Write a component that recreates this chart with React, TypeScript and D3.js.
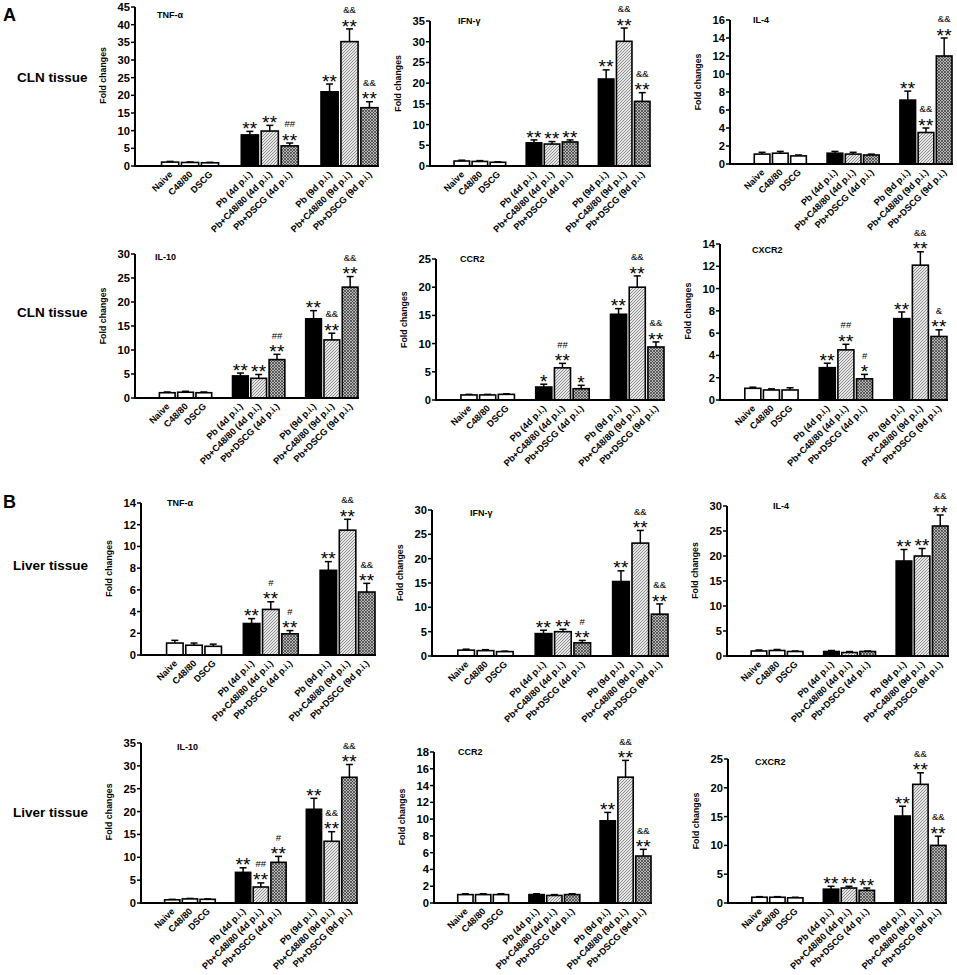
import React from 'react';
import * as d3 from 'd3';

const FONT = "'Liberation Sans', Arial, Helvetica, sans-serif";

const categories = [
  'Naive', 'C48/80', 'DSCG',
  'Pb (4d p.i.)', 'Pb+C48/80 (4d p.i.)', 'Pb+DSCG (4d p.i.)',
  'Pb (9d p.i.)', 'Pb+C48/80 (9d p.i.)', 'Pb+DSCG (9d p.i.)',
];

// ---------- A: CLN tissue ----------
const tnfCLNMean = [1.1, 1.0, 0.9, 8.8, 9.9, 5.7, 21.0, 35.2, 16.5];
const tnfCLNErr = [0.2, 0.15, 0.15, 1.0, 1.6, 0.8, 2.2, 3.6, 1.7];
const tnfCLNStar = ['', '', '', '**', '**', '**', '**', '**', '**'];
const tnfCLNMark = ['', '', '', '', '', '##', '', '&&', '&&'];

const ifnCLNMean = [1.2, 1.1, 0.9, 5.6, 5.3, 5.8, 21.0, 30.1, 15.6];
const ifnCLNErr = [0.2, 0.2, 0.1, 0.7, 0.6, 0.5, 2.2, 3.2, 2.1];
const ifnCLNStar = ['', '', '', '**', '**', '**', '**', '**', '**'];
const ifnCLNMark = ['', '', '', '', '', '', '', '&&', '&&'];

const il4CLNMean = [1.1, 1.2, 0.9, 1.2, 1.1, 1.0, 7.1, 3.5, 12.0];
const il4CLNErr = [0.2, 0.2, 0.1, 0.2, 0.2, 0.1, 1.0, 0.5, 2.0];
const il4CLNStar = ['', '', '', '', '', '', '**', '**', '**'];
const il4CLNMark = ['', '', '', '', '', '', '', '&&', '&&'];

const il10CLNMean = [1.1, 1.2, 1.1, 4.6, 4.1, 8.0, 16.5, 12.1, 23.1];
const il10CLNErr = [0.15, 0.2, 0.15, 0.6, 0.8, 1.1, 1.7, 1.4, 2.2];
const il10CLNStar = ['', '', '', '**', '**', '**', '**', '**', '**'];
const il10CLNMark = ['', '', '', '', '', '##', '', '&&', '&&'];

const ccr2CLNMean = [0.9, 0.9, 1.0, 2.3, 5.7, 2.0, 15.2, 20.0, 9.4];
const ccr2CLNErr = [0.1, 0.1, 0.1, 0.5, 0.8, 0.6, 1.0, 2.0, 0.9];
const ccr2CLNStar = ['', '', '', '*', '**', '*', '**', '**', '**'];
const ccr2CLNMark = ['', '', '', '', '##', '', '', '&&', '&&'];

const cxcr2CLNMean = [1.05, 0.9, 0.9, 2.9, 4.5, 1.9, 7.3, 12.1, 5.7];
const cxcr2CLNErr = [0.1, 0.1, 0.2, 0.4, 0.5, 0.4, 0.6, 1.2, 0.6];
const cxcr2CLNStar = ['', '', '', '**', '**', '*', '**', '**', '**'];
const cxcr2CLNMark = ['', '', '', '', '##', '#', '', '&&', '&'];

// ---------- B: Liver tissue ----------
const tnfLivMean = [1.1, 0.9, 0.8, 2.9, 4.2, 1.95, 7.8, 11.5, 5.8];
const tnfLivErr = [0.25, 0.2, 0.2, 0.45, 0.7, 0.3, 0.8, 1.0, 0.8];
const tnfLivStar = ['', '', '', '**', '**', '**', '**', '**', '**'];
const tnfLivMark = ['', '', '', '', '#', '#', '', '&&', '&&'];

const ifnLivMean = [1.2, 1.1, 0.9, 4.6, 5.0, 2.7, 15.3, 23.2, 8.6];
const ifnLivErr = [0.2, 0.2, 0.1, 0.7, 0.5, 0.5, 2.2, 2.6, 2.1];
const ifnLivStar = ['', '', '', '**', '**', '**', '**', '**', '**'];
const ifnLivMark = ['', '', '', '', '', '#', '', '&&', '&&'];

const il4LivMean = [1.0, 1.1, 0.9, 0.9, 0.7, 0.9, 19.0, 20.0, 26.0];
const il4LivErr = [0.2, 0.2, 0.1, 0.2, 0.2, 0.1, 2.3, 1.5, 2.2];
const il4LivStar = ['', '', '', '', '', '', '**', '**', '**'];
const il4LivMark = ['', '', '', '', '', '', '', '', '&&'];

const il10LivMean = [0.7, 0.9, 0.8, 6.7, 3.5, 8.9, 20.5, 13.5, 27.5];
const il10LivErr = [0.1, 0.1, 0.1, 1.0, 0.9, 1.3, 2.4, 2.1, 2.8];
const il10LivStar = ['', '', '', '**', '**', '**', '**', '**', '**'];
const il10LivMark = ['', '', '', '', '##', '#', '', '&&', '&&'];

const ccr2LivMean = [1.0, 1.0, 1.0, 1.0, 0.9, 1.0, 9.8, 15.0, 5.6];
const ccr2LivErr = [0.1, 0.1, 0.1, 0.1, 0.1, 0.1, 1.0, 2.0, 0.8];
const ccr2LivStar = ['', '', '', '', '', '', '**', '**', '**'];
const ccr2LivMark = ['', '', '', '', '', '', '', '&&', '&&'];

const cxcr2LivMean = [1.0, 1.0, 0.9, 2.4, 2.6, 2.2, 15.1, 20.6, 10.0];
const cxcr2LivErr = [0.1, 0.1, 0.1, 0.5, 0.3, 0.4, 1.7, 2.0, 1.6];
const cxcr2LivStar = ['', '', '', '**', '**', '**', '**', '**', '**'];
const cxcr2LivMark = ['', '', '', '', '', '', '', '&&', '&&'];

const panels = [
  { title: 'TNF-α', yMax: 45, yStep: 5, mean: tnfCLNMean, err: tnfCLNErr, star: tnfCLNStar, mark: tnfCLNMark },
  { title: 'IFN-γ', yMax: 35, yStep: 5, mean: ifnCLNMean, err: ifnCLNErr, star: ifnCLNStar, mark: ifnCLNMark },
  { title: 'IL-4', yMax: 16, yStep: 2, mean: il4CLNMean, err: il4CLNErr, star: il4CLNStar, mark: il4CLNMark },
  { title: 'IL-10', yMax: 30, yStep: 5, mean: il10CLNMean, err: il10CLNErr, star: il10CLNStar, mark: il10CLNMark },
  { title: 'CCR2', yMax: 25, yStep: 5, mean: ccr2CLNMean, err: ccr2CLNErr, star: ccr2CLNStar, mark: ccr2CLNMark },
  { title: 'CXCR2', yMax: 14, yStep: 2, mean: cxcr2CLNMean, err: cxcr2CLNErr, star: cxcr2CLNStar, mark: cxcr2CLNMark },
  { title: 'TNF-α', yMax: 14, yStep: 2, mean: tnfLivMean, err: tnfLivErr, star: tnfLivStar, mark: tnfLivMark },
  { title: 'IFN-γ', yMax: 30, yStep: 5, mean: ifnLivMean, err: ifnLivErr, star: ifnLivStar, mark: ifnLivMark },
  { title: 'IL-4', yMax: 30, yStep: 5, mean: il4LivMean, err: il4LivErr, star: il4LivStar, mark: il4LivMark },
  { title: 'IL-10', yMax: 35, yStep: 5, mean: il10LivMean, err: il10LivErr, star: il10LivStar, mark: il10LivMark },
  { title: 'CCR2', yMax: 18, yStep: 2, mean: ccr2LivMean, err: ccr2LivErr, star: ccr2LivStar, mark: ccr2LivMark },
  { title: 'CXCR2', yMax: 25, yStep: 5, mean: cxcr2LivMean, err: cxcr2LivErr, star: cxcr2LivStar, mark: cxcr2LivMark },
];

// layout (pixel geometry of each panel)
const layouts = [
  { x0: 135, x1: 378, yB: 166, yT: 7, tx: 157, ty: 18 },
  { x0: 430, x1: 650, yB: 166, yT: 21, tx: 458, ty: 24 },
  { x0: 730, x1: 952, yB: 164, yT: 20, tx: 753, ty: 23 },
  { x0: 135, x1: 358, yB: 398, yT: 254, tx: 155, ty: 260 },
  { x0: 436, x1: 664, yB: 400, yT: 259, tx: 460, ty: 262 },
  { x0: 720, x1: 947, yB: 400, yT: 244, tx: 752, ty: 253 },
  { x0: 141, x1: 375, yB: 655, yT: 503, tx: 167, ty: 506 },
  { x0: 432, x1: 668, yB: 656, yT: 510, tx: 470, ty: 516 },
  { x0: 727, x1: 948, yB: 656, yT: 506, tx: 773, ty: 509 },
  { x0: 141, x1: 357, yB: 903, yT: 743, tx: 177, ty: 750 },
  { x0: 434, x1: 651, yB: 903, yT: 752, tx: 458, ty: 755 },
  { x0: 728, x1: 946, yB: 903, yT: 759, tx: 755, ty: 765 },
];

const rowLabels = [
  { text: 'CLN tissue', x: 17, y: 82 },
  { text: 'CLN tissue', x: 17, y: 317 },
  { text: 'Liver tissue', x: 13, y: 570 },
  { text: 'Liver tissue', x: 13, y: 817 },
];
const sectionLabels = [
  { text: 'A', x: 3, y: 21 },
  { text: 'B', x: 3, y: 508 },
];

function fillFor(i: number) {
  if (i < 3) return '#ffffff';
  const k = i % 3;
  if (k === 0) return '#000000';
  if (k === 1) return 'url(#hatchLight)';
  return 'url(#hatchDark)';
}

function Panel({ p, l }: { p: any; l: any }) {
  const LEAD = 1.35;
  const stepPx = (l.x1 - l.x0) / (11 + LEAD);
  const xb = d3
    .scaleBand<string>()
    .domain(d3.range(11).map(String))
    .range([l.x0 + LEAD * stepPx, l.x1])
    .paddingInner(0.14)
    .paddingOuter(0);
  const y = d3.scaleLinear().domain([0, p.yMax]).range([l.yB, l.yT]);
  const ticks = d3.range(0, p.yMax + p.yStep / 2, p.yStep);
  const bw = xb.bandwidth();
  const slotOf = (i: number) => String(i + Math.floor(i / 3));
  const yMid = l.yT + 0.43 * (l.yB - l.yT);

  return (
    <g>
      {/* bars */}
      {p.mean.map((m: number, i: number) => {
        const x = xb(slotOf(i))!;
        const cx = x + bw / 2;
        const top = y(m);
        const eTop = y(m + p.err[i]);
        return (
          <g key={i}>
            <line x1={cx} x2={cx} y1={top} y2={eTop} stroke="#000" strokeWidth={1.5} />
            <line x1={cx - 3.5} x2={cx + 3.5} y1={eTop} y2={eTop} stroke="#000" strokeWidth={1.5} />
            <rect x={x} y={top} width={bw} height={l.yB - top} fill={fillFor(i)} stroke="#000" strokeWidth={1.6} />
            {p.mark[i] && (
              <text x={cx} y={eTop - 15.8} textAnchor="middle" fontSize={9.5} fontFamily={FONT} fill="#000">
                {p.mark[i]}
              </text>
            )}
            {p.star[i] && (
              <text x={cx} y={eTop + 3.6} textAnchor="middle" fontSize={19} fontFamily={FONT} fill="#000" letterSpacing={0.3}>
                {p.star[i]}
              </text>
            )}
          </g>
        );
      })}
      {/* x axis */}
      <line x1={l.x0} x2={l.x1 + 1} y1={l.yB} y2={l.yB} stroke="#000" strokeWidth={2} />
      {/* y axis */}
      <line x1={l.x0} x2={l.x0} y1={l.yB + 1} y2={l.yT} stroke="#000" strokeWidth={2} />
      {ticks.map((t: number) => (
        <g key={t}>
          <line x1={l.x0 - 4} x2={l.x0} y1={y(t)} y2={y(t)} stroke="#000" strokeWidth={1.5} />
          <text x={l.x0 - 5} y={y(t) + 4} textAnchor="end" fontSize={11.2} fontWeight="bold" fontFamily={FONT} fill="#000">
            {t}
          </text>
        </g>
      ))}
      {/* y label */}
      <text
        transform={`translate(${l.x0 - 29},${yMid}) rotate(-90)`}
        textAnchor="middle"
        fontSize={8.8}
        fontWeight="bold"
        fontFamily={FONT}
        fill="#000"
      >
        Fold changes
      </text>
      {/* title */}
      <text x={l.tx} y={l.ty} fontSize={9} fontWeight="bold" fontFamily={FONT} fill="#000">
        {p.title}
      </text>
      {/* x labels */}
      {categories.map((c, i) => {
        const cx = xb(slotOf(i))! + bw / 2 + 3;
        const ly = l.yB + 9;
        return (
          <text
            key={c}
            transform={`translate(${cx},${ly}) rotate(-45)`}
            textAnchor="end"
            fontSize={9.2}
            fontWeight="bold"
            fontFamily={FONT}
            fill="#000"
          >
            {c}
          </text>
        );
      })}
    </g>
  );
}

export default function App() {
  return (
    <svg
      width={957}
      height={975}
      viewBox="0 0 957 975"
      style={{ position: 'absolute', left: 0, top: 0, background: '#fff' }}
    >
      <defs>
        <pattern id="hatchLight" patternUnits="userSpaceOnUse" width={3} height={3}>
          <rect width={3} height={3} fill="#e6e6e6" />
          <path d="M-1,1 L1,-1 M0,3 L3,0 M2,4 L4,2" stroke="#777" strokeWidth={0.8} />
        </pattern>
        <pattern id="hatchDark" patternUnits="userSpaceOnUse" width={3} height={3}>
          <rect width={3} height={3} fill="#b8b8b8" />
          <path d="M0,3 L3,0 M0,0 L3,3" stroke="#333" strokeWidth={0.7} />
        </pattern>
      </defs>
      <rect width={957} height={975} fill="#fff" />
      {sectionLabels.map((s) => (
        <text key={s.text} x={s.x} y={s.y} fontSize={18} fontWeight="bold" fontFamily={FONT} fill="#000">
          {s.text}
        </text>
      ))}
      {rowLabels.map((r, i) => (
        <text key={i} x={r.x} y={r.y} fontSize={13.5} fontWeight="bold" fontFamily={FONT} fill="#000">
          {r.text}
        </text>
      ))}
      {panels.map((p, i) => (
        <Panel key={i} p={p} l={layouts[i]} />
      ))}
    </svg>
  );
}
